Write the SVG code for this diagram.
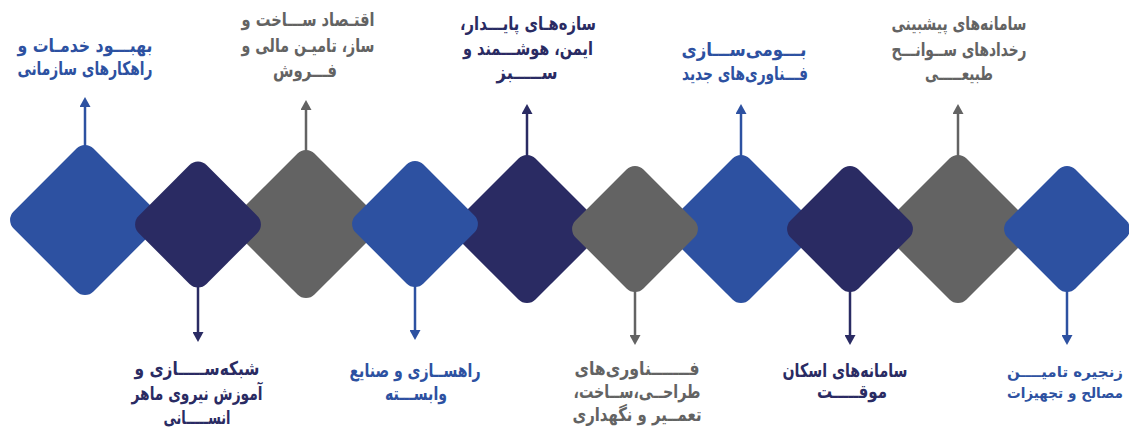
<svg xmlns="http://www.w3.org/2000/svg" width="1129" height="431" viewBox="0 0 1129 431">
<defs>
<style>
.blue{fill:#2d51a1}
.navy{fill:#2a2b63}
.gray{fill:#636363}
.lb{stroke:#2d51a1}
.ln{stroke:#2a2b63}
.lg{stroke:#636363}
line{stroke-width:2.5;fill:none}
text{font-family:"DejaVu Sans",sans-serif;font-weight:bold;font-size:19px;text-anchor:middle;direction:rtl}
text.edge{font-size:14.5px}
</style>
<marker id="ab" markerUnits="userSpaceOnUse" markerWidth="10" markerHeight="11" refX="4" refY="5.5" orient="auto"><path d="M0,0 L10,5.5 L0,11 z" fill="#2d51a1"/></marker>
<marker id="an" markerUnits="userSpaceOnUse" markerWidth="10" markerHeight="11" refX="4" refY="5.5" orient="auto"><path d="M0,0 L10,5.5 L0,11 z" fill="#2a2b63"/></marker>
<marker id="ag" markerUnits="userSpaceOnUse" markerWidth="10" markerHeight="11" refX="4" refY="5.5" orient="auto"><path d="M0,0 L10,5.5 L0,11 z" fill="#636363"/></marker>
</defs>
<g id="connectors">
<line class="lb" x1="85" y1="146" x2="85" y2="103" marker-end="url(#ab)"/>
<line class="lg" x1="306" y1="152" x2="306" y2="106" marker-end="url(#ag)"/>
<line class="ln" x1="527" y1="156" x2="527" y2="110" marker-end="url(#an)"/>
<line class="lb" x1="741" y1="156" x2="741" y2="110" marker-end="url(#ab)"/>
<line class="lg" x1="958" y1="156" x2="958" y2="110" marker-end="url(#ag)"/>
<line class="ln" x1="198" y1="286" x2="198" y2="336" marker-end="url(#an)"/>
<line class="lb" x1="415" y1="286" x2="415" y2="334" marker-end="url(#ab)"/>
<line class="lg" x1="635" y1="291" x2="635" y2="339" marker-end="url(#ag)"/>
<line class="ln" x1="850" y1="291" x2="850" y2="339" marker-end="url(#an)"/>
<line class="lb" x1="1067" y1="291" x2="1067" y2="339" marker-end="url(#ab)"/>
</g>
<g id="node1">
<rect class="blue" x="28.5" y="163.5" width="113" height="113" rx="12" transform="rotate(45 85 220)"/>
<text class="blue" x="85" y="52" textLength="135" lengthAdjust="spacingAndGlyphs">بهبـــود خدمـات و</text>
<text class="blue" x="85" y="75" textLength="135" lengthAdjust="spacingAndGlyphs">راهکارهای سازمانی</text>
</g>
<g id="node3">
<rect class="gray" x="250.2" y="168.2" width="111.7" height="111.7" rx="12" transform="rotate(45 306 224)"/>
<text class="gray" x="308" y="26" textLength="133" lengthAdjust="spacingAndGlyphs">اقتـصاد ســـاخت و</text>
<text class="gray" x="308" y="52" textLength="133" lengthAdjust="spacingAndGlyphs">ساز، تامیـن مالی و</text>
<text class="gray" x="305" y="77" textLength="64" lengthAdjust="spacingAndGlyphs">فـــروش</text>
</g>
<g id="node5">
<rect class="navy" x="471.2" y="173.2" width="111.7" height="111.7" rx="12" transform="rotate(45 527 229)"/>
<text class="navy" x="528" y="30" textLength="136" lengthAdjust="spacingAndGlyphs">سازه‌هـای پایـــدار،</text>
<text class="navy" x="528" y="55" textLength="130" lengthAdjust="spacingAndGlyphs">ایمن، هوشـــمند و</text>
<text class="navy" x="527" y="79" textLength="61" lengthAdjust="spacingAndGlyphs">ســـــبز</text>
</g>
<g id="node7">
<rect class="blue" x="685.2" y="173.2" width="111.7" height="111.7" rx="12" transform="rotate(45 741 229)"/>
<text class="blue" x="744" y="56" textLength="125" lengthAdjust="spacingAndGlyphs">بـــومی‌ســـازی</text>
<text class="blue" x="745" y="80" textLength="126" lengthAdjust="spacingAndGlyphs">فـــناوری‌های جدید</text>
</g>
<g id="node9">
<rect class="gray" x="902.2" y="173.2" width="111.7" height="111.7" rx="12" transform="rotate(45 958 229)"/>
<text class="gray" x="959" y="30" textLength="135" lengthAdjust="spacingAndGlyphs">سامانه‌های پیشبینی</text>
<text class="gray" x="959" y="56" textLength="135" lengthAdjust="spacingAndGlyphs">رخدادهای ســوانـــح</text>
<text class="gray" x="959" y="80" textLength="68" lengthAdjust="spacingAndGlyphs">طبیعـــــی</text>
</g>
<g id="node2">
<rect class="navy" x="150" y="176.5" width="96" height="96" rx="12" transform="rotate(45 198 224.5)"/>
<text class="navy" x="197" y="375" textLength="125" lengthAdjust="spacingAndGlyphs">شبکه‌ســـــازی و</text>
<text class="navy" x="197" y="400" textLength="131" lengthAdjust="spacingAndGlyphs">آموزش نیروی ماهر</text>
<text class="navy" x="197" y="424" textLength="67" lengthAdjust="spacingAndGlyphs">انســـــانی</text>
</g>
<g id="node4">
<rect class="blue" x="367" y="176" width="96" height="96" rx="12" transform="rotate(45 415 224)"/>
<text class="blue" x="415" y="377" textLength="131" lengthAdjust="spacingAndGlyphs">راهســازی و صنایع</text>
<text class="blue" x="416" y="400" textLength="62" lengthAdjust="spacingAndGlyphs">وابســـته</text>
</g>
<g id="node6">
<rect class="gray" x="587" y="181" width="96" height="96" rx="12" transform="rotate(45 635 229)"/>
<text class="gray" x="637" y="375" textLength="125" lengthAdjust="spacingAndGlyphs">فـــــــناوری‌های</text>
<text class="gray" x="637" y="398" textLength="127" lengthAdjust="spacingAndGlyphs">طراحــی،ســاخت،</text>
<text class="gray" x="637" y="421" textLength="129" lengthAdjust="spacingAndGlyphs">تعمــیر و نگهداری</text>
</g>
<g id="node8">
<rect class="navy" x="802" y="181" width="96" height="96" rx="12" transform="rotate(45 850 229)"/>
<text class="navy" x="845" y="377" textLength="125" lengthAdjust="spacingAndGlyphs">سامانه‌های اسکان</text>
<text class="navy" x="852" y="398" textLength="70" lengthAdjust="spacingAndGlyphs">موقـــــت</text>
</g>
<g id="node10">
<rect class="blue" x="1019" y="181" width="96" height="96" rx="12" transform="rotate(45 1067 229)"/>
<text class="blue edge" x="1065" y="377" textLength="116" lengthAdjust="spacingAndGlyphs">زنجیره تامیــــن</text>
<text class="blue edge" x="1065" y="398" textLength="116" lengthAdjust="spacingAndGlyphs">مصالح و تجهیزات</text>
</g>
</svg>
